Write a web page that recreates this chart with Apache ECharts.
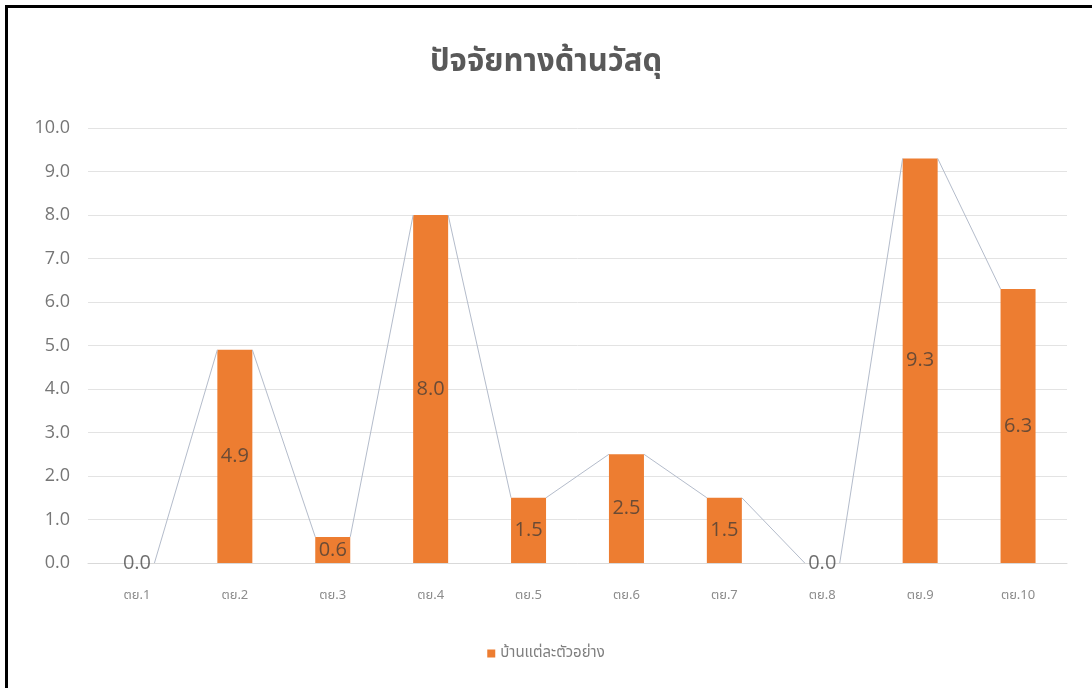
<!DOCTYPE html>
<html>
<head>
<meta charset="utf-8">
<style>
  html, body { margin: 0; padding: 0; background: #fff; }
  #frame { position: absolute; left: 0; top: 0; width: 1092px; height: 688px; }
  #chart { position: absolute; left: 0; top: 0; width: 1092px; height: 688px; }
  #edgeTop { position: absolute; left: 5px; top: 5px; width: 1087px; height: 3px; background: #000; }
  #edgeLeft { position: absolute; left: 5px; top: 5px; width: 3px; height: 683px; background: #000; }
</style>
<script src="https://cdn.jsdelivr.net/npm/echarts@6/dist/echarts.min.js"></script>
</head>
<body>
<div id="frame">
  <div id="chart"></div>
  <div id="edgeTop"></div>
  <div id="edgeLeft"></div>
</div>
<script>
// Material factor score per sample house
const titleText = 'ปัจจัยทางด้านวัสดุ';
const seriesName = 'บ้านแต่ละตัวอย่าง';
const categories = ['ตย.1', 'ตย.2', 'ตย.3', 'ตย.4', 'ตย.5', 'ตย.6', 'ตย.7', 'ตย.8', 'ตย.9', 'ตย.10'];
const values = [0.0, 4.9, 0.6, 8.0, 1.5, 2.5, 1.5, 0.0, 9.3, 6.3];
const yTicks = { min: 0, max: 10, interval: 1 };

const BAR_W = 35;
const thaiFont = '"Noto Sans Thai", "Noto Sans", "DejaVu Sans", sans-serif';
const numFont = '"Open Sans", "Noto Sans", sans-serif';

// Series lines: join each bar's top-right corner to the next bar's top-left corner
const connectorData = values.slice(0, -1).map((v, i) => [i, v, values[i + 1]]);

const chart = echarts.init(document.getElementById('chart'));
chart.setOption({
  animation: false,
  backgroundColor: '#fff',
  title: {
    text: titleText,
    left: 'center',
    top: 44,
    textStyle: { fontFamily: thaiFont, fontSize: 31, fontWeight: 'bold', color: '#595959' }
  },
  legend: {
    bottom: 22,
    left: 'center',
    icon: 'rect',
    itemWidth: 8,
    itemHeight: 8,
    itemGap: 6,
    data: [seriesName],
    textStyle: { fontFamily: thaiFont, fontSize: 15, color: '#7f7f7f' }
  },
  grid: { left: 88, right: 25, top: 128, bottom: 125, containLabel: false },
  xAxis: {
    type: 'category',
    data: categories,
    axisLine: { lineStyle: { color: '#d9d9d9', width: 1 } },
    axisTick: { show: false },
    axisLabel: { fontFamily: thaiFont, fontSize: 13, color: '#8c8c8c', margin: 27 }
  },
  yAxis: {
    type: 'value',
    min: yTicks.min,
    max: yTicks.max,
    interval: yTicks.interval,
    axisLine: { show: false },
    axisTick: { show: false },
    splitLine: { lineStyle: { color: '#e3e3e3', width: 1 } },
    axisLabel: {
      fontFamily: numFont,
      fontSize: 18,
      color: '#767676',
      margin: 18,
      formatter: v => v.toFixed(1)
    }
  },
  series: [
    {
      name: seriesName,
      type: 'bar',
      data: values,
      barWidth: BAR_W,
      itemStyle: { color: '#ED7D31' },
      label: {
        show: true,
        position: 'inside',
        fontFamily: numFont,
        fontSize: 20,
        color: 'rgba(55,55,55,0.72)',
        formatter: p => p.value.toFixed(1)
      },
      z: 2
    },
    {
      name: 'connector',
      type: 'custom',
      data: connectorData,
      silent: true,
      z: 3,
      encode: { x: 0, y: 1 },
      renderItem: (params, api) => {
        const i = api.value(0);
        const a = api.coord([i, api.value(1)]);
        const b = api.coord([i + 1, api.value(2)]);
        return {
          type: 'line',
          shape: { x1: a[0] + BAR_W / 2, y1: a[1], x2: b[0] - BAR_W / 2, y2: b[1] },
          style: { stroke: '#b4bccb', lineWidth: 1 }
        };
      }
    }
  ]
});
</script>
</body>
</html>
